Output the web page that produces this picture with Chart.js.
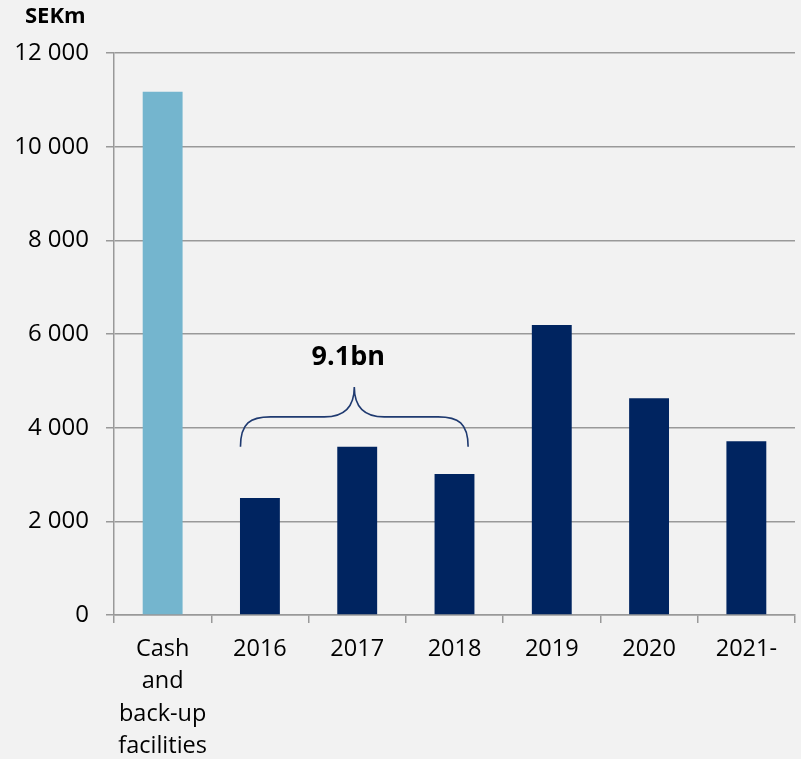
<!DOCTYPE html>
<html>
<head>
<meta charset="utf-8">
<script src="https://cdn.jsdelivr.net/npm/chart.js@4"></script>
<style>
  html, body { margin: 0; padding: 0; background: #f2f2f2; }
  #wrap { width: 801px; height: 759px; }
</style>
</head>
<body>
<div id="wrap"><canvas id="myChart"></canvas></div>
<script>
// maturity profile, SEKm
const categories = [["Cash", "and", "back-up", "facilities"], "2016", "2017", "2018", "2019", "2020", "2021-"];
const amounts = [11170, 2500, 3590, 3010, 6190, 4630, 3710];
const yTicks = [0, 2000, 4000, 6000, 8000, 10000, 12000];
const unitLabel = "SEKm";

// the curly bracket over 2016-2018
const bracketLabel = "9.1bn";
const bracketFrom = 1;
const bracketTo = 3;

const fontName = "'Open Sans', sans-serif";
const gridGrey = "#999999";

// unit label in the top left corner, placed relative to the y axis
const unitPlugin = {
  id: "unit",
  afterDraw(chart) {
    const ctx = chart.ctx;
    ctx.save();
    ctx.fillStyle = "#000";
    ctx.font = "bold 22px " + fontName;
    ctx.textAlign = "left";
    ctx.textBaseline = "middle";
    ctx.fillText(unitLabel, chart.chartArea.left - 89, 17);
    ctx.restore();
  }
};

// draws the brace and its label using the chart scales
const bracePlugin = {
  id: "brace",
  afterDatasetsDraw(chart) {
    const ctx = chart.ctx;
    const xs = chart.scales.x;
    const ys = chart.scales.y;
    const step = xs.getPixelForValue(1) - xs.getPixelForValue(0);
    const x0 = xs.getPixelForValue(bracketFrom) - 0.2 * step;
    const x1 = xs.getPixelForValue(bracketTo) + 0.14 * step;
    const xm = (x0 + x1) / 2;
    const yEnd = ys.getPixelForValue(3590);
    const yMid = ys.getPixelForValue(4230);
    const yTip = ys.getPixelForValue(4870);
    const r = 30;

    ctx.save();
    ctx.strokeStyle = "#1f3a70";
    ctx.lineWidth = 1.6;
    ctx.beginPath();
    ctx.moveTo(x0, yEnd);
    ctx.bezierCurveTo(x0, yMid + 6, x0 + 10, yMid, x0 + r, yMid);
    ctx.lineTo(xm - r, yMid);
    ctx.bezierCurveTo(xm - 12, yMid, xm, yMid - 8, xm, yTip);
    ctx.bezierCurveTo(xm, yMid - 8, xm + 12, yMid, xm + r, yMid);
    ctx.lineTo(x1 - r, yMid);
    ctx.bezierCurveTo(x1 - 10, yMid, x1, yMid + 6, x1, yEnd);
    ctx.stroke();

    ctx.fillStyle = "#000";
    ctx.font = "bold 27px " + fontName;
    ctx.textAlign = "center";
    ctx.textBaseline = "middle";
    ctx.fillText(bracketLabel, xm - 6, ys.getPixelForValue(5500));
    ctx.restore();
  }
};

const data = {
  labels: categories,
  datasets: [{
    data: amounts,
    backgroundColor: amounts.map((v, i) => i === 0 ? "#74b5ce" : "#002460"),
    barPercentage: 0.41,
    categoryPercentage: 1
  }]
};

const config = {
  type: "bar",
  data: data,
  options: {
    responsive: true,
    maintainAspectRatio: false,
    animation: false,
    layout: { padding: { left: 0, right: 6, top: 53, bottom: 0 } },
    plugins: {
      legend: { display: false },
      tooltip: { enabled: false },
      title: { display: false }
    },
    scales: {
      x: {
        afterFit(axis) {
          axis.height = 144;
        },
        grid: {
          display: true,
          drawOnChartArea: false,
          color: gridGrey,
          lineWidth: 1.5,
          tickLength: 8,
          tickColor: gridGrey
        },
        border: { color: gridGrey, width: 1.5 },
        ticks: {
          color: "#000",
          maxRotation: 0,
          autoSkip: false,
          padding: 10,
          font: { family: fontName, size: 23.5, lineHeight: 1.38 }
        }
      },
      y: {
        min: 0,
        max: 12000,
        afterBuildTicks(axis) {
          axis.ticks = yTicks.map(v => ({ value: v }));
        },
        afterFit(axis) {
          axis.width = 114;
        },
        grid: {
          color: gridGrey,
          lineWidth: 1.5,
          tickLength: 8,
          tickColor: gridGrey
        },
        border: { color: gridGrey, width: 1.5 },
        ticks: {
          color: "#000",
          padding: 17,
          font: { family: fontName, size: 24 },
          callback: v => String(v).replace(/\B(?=(\d{3})+(?!\d))/g, " ")
        }
      }
    }
  },
  plugins: [bracePlugin, unitPlugin]
};

const ctx = document.getElementById("myChart").getContext("2d");
const myChart = new Chart(ctx, config);
</script>
</body>
</html>
